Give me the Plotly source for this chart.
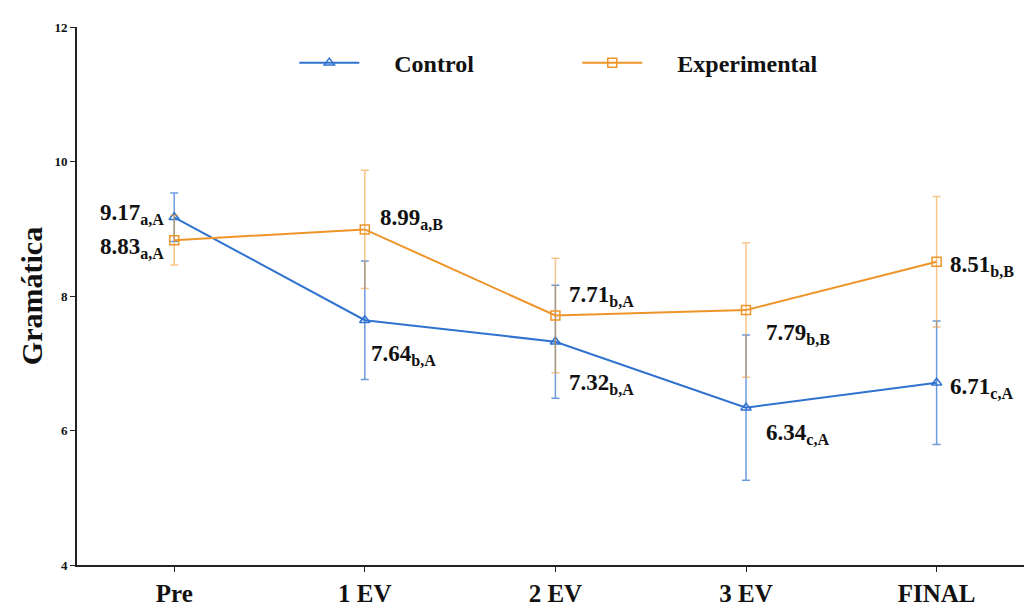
import plotly.graph_objects as go

categories = ["Pre", "1 EV", "2 EV", "3 EV", "FINAL"]
control = [9.17, 7.64, 7.32, 6.34, 6.71]
control_err = [0.36, 0.88, 0.84, 1.08, 0.92]
control_letters = ["a,A", "b,A", "b,A", "c,A", "c,A"]
experimental = [8.83, 8.99, 7.71, 7.79, 8.51]
experimental_err = [0.37, 0.88, 0.85, 1.0, 0.97]
experimental_letters = ["a,A", "a,B", "b,A", "b,B", "b,B"]
y_ticks = [4, 6, 8, 10, 12]

BLUE = "#2F72CF"
ORANGE = "#EE9529"
FONT = "Liberation Serif"
GAP = "\u2003\u2005"

xs = list(range(len(categories)))

fig = go.Figure()
fig.add_trace(go.Scatter(
    x=xs, y=control, name=GAP + "<b>Control</b>", mode="lines+markers",
    line=dict(color=BLUE, width=2),
    marker=dict(symbol="triangle-up-open", size=9, color=BLUE, line=dict(width=1.5)),
    error_y=dict(type="data", array=control_err, color="rgba(47,114,207,0.7)", thickness=1.5, width=4),
))
fig.add_trace(go.Scatter(
    x=xs, y=experimental, name=GAP + "<b>Experimental</b>", mode="lines+markers",
    line=dict(color=ORANGE, width=2),
    marker=dict(symbol="square-open", size=9, color=ORANGE, line=dict(width=1.5)),
    error_y=dict(type="data", array=experimental_err, color="rgba(238,149,41,0.55)", thickness=1.5, width=4),
))

# label placement (anchor, xshift, yshift) per point
ctrl_pos = [("right", -8, 3), ("left", 4, -35), ("left", 12, -42), ("left", 18, -26), ("left", 11, -5)]
exp_pos = [("right", -8, -8), ("left", 13, 10), ("left", 12, 20), ("left", 18, -24), ("left", 11, -4)]

def add_labels(vals, letters, pos):
    for i, (v, l, p) in enumerate(zip(vals, letters, pos)):
        fig.add_annotation(
            x=xs[i], y=v, xref="x", yref="y",
            text=f"<b>{v:.2f}</b><sub><b>{l}</b></sub>",
            showarrow=False, xanchor=p[0], yanchor="middle",
            xshift=p[1], yshift=p[2],
            font=dict(family=FONT, size=23, color="#111"),
        )

add_labels(control, control_letters, ctrl_pos)
add_labels(experimental, experimental_letters, exp_pos)

fig.update_layout(
    width=1024, height=602,
    margin=dict(l=69, r=2, t=19, b=45),
    paper_bgcolor="white", plot_bgcolor="white",
    showlegend=True,
    legend=dict(
        orientation="h", x=0.228, xanchor="left", y=0.933, yanchor="middle",
        font=dict(family=FONT, size=24, color="#111"),
        entrywidth=208, itemwidth=60, bgcolor="rgba(0,0,0,0)",
    ),
    xaxis=dict(
        range=[-0.51, 4.49], tickvals=xs, ticktext=[f"<b>{c}</b>" for c in categories],
        showline=True, linecolor="#222", linewidth=2, ticks="outside", ticklen=5,
        tickcolor="#222", showgrid=False, zeroline=False,
        tickfont=dict(family=FONT, size=25, color="#111"),
    ),
    yaxis=dict(
        range=[4, 12], tickvals=y_ticks, ticktext=[f"<b>{t}</b>" for t in y_ticks],
        showline=True, linecolor="#222", linewidth=2, ticks="outside", ticklen=5,
        tickcolor="#222", showgrid=False, zeroline=False, automargin=False,
        tickfont=dict(family=FONT, size=13, color="#111"),
        title=dict(text="<b>Gramática</b>", font=dict(family=FONT, size=30, color="#111"), standoff=3),
    ),
)

fig.write_html("out.html")
